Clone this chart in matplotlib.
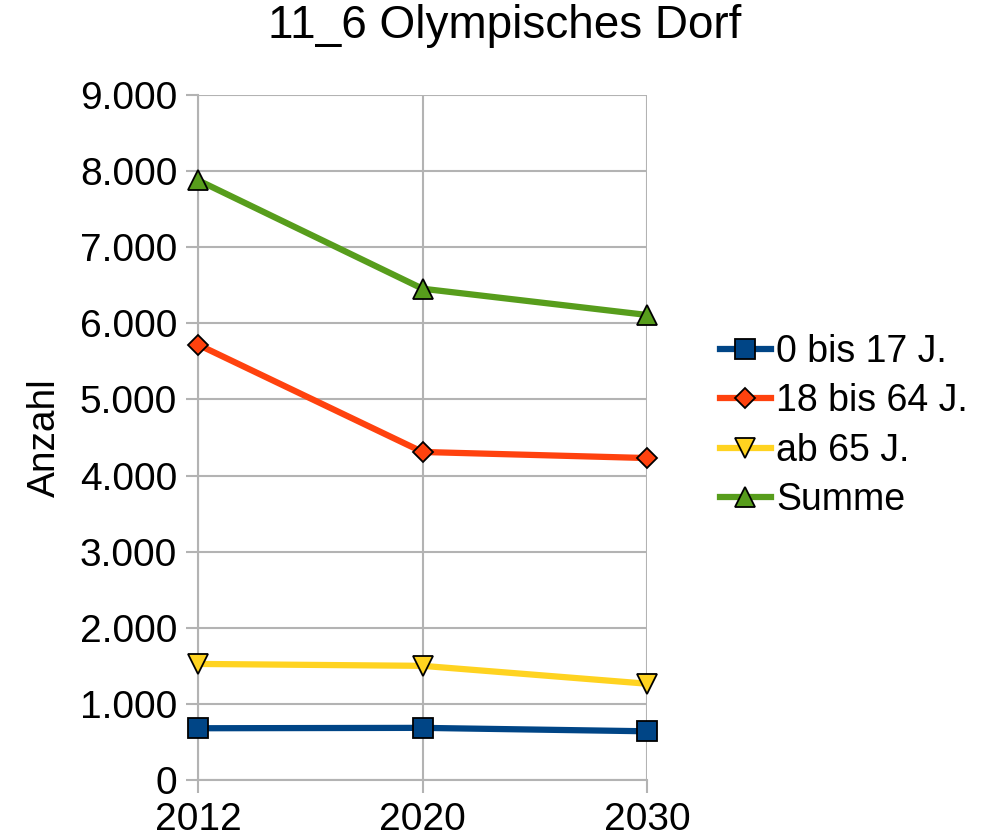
import matplotlib
matplotlib.use("Agg")
import matplotlib.pyplot as plt
from matplotlib.ticker import FuncFormatter, MultipleLocator

plt.rcParams['font.family'] = ['Liberation Sans', 'DejaVu Sans']

# data
years = ['2012', '2020', '2030']
kids = [680, 685, 640]
adults = [5720, 4310, 4230]
seniors = [1525, 1500, 1265]
total = [7880, 6455, 6110]

series = [
    ('0 bis 17 J.', kids, '#004586', 's', 15),
    ('18 bis 64 J.', adults, '#ff420e', 'D', 10),
    ('ab 65 J.', seniors, '#ffd320', 'v', 15),
    ('Summe', total, '#579d1c', '^', 15),
]

fig = plt.figure(figsize=(9.81, 8.33), dpi=100)
ax = fig.add_axes([198 / 981, 1 - 780 / 833, (647 - 198) / 981, (780 - 95) / 833])

x = range(len(years))
for label, vals, color, marker, ms in series:
    ax.plot(x, vals, color=color, linewidth=4.5, marker=marker, markersize=ms,
            markerfacecolor=color, markeredgecolor='black', markeredgewidth=1.3,
            label=label, clip_on=False, zorder=3)

ax.set_xlim(0, len(years) - 1)
ax.set_ylim(0, 9000)
ax.yaxis.set_major_locator(MultipleLocator(1000))
ax.yaxis.set_major_formatter(FuncFormatter(lambda v, p: f'{int(v):,}'.replace(',', '.')))
ax.set_xticks(list(x))
ax.set_xticklabels(years)

grid_c = '#b3b3b3'
ax.grid(True, color=grid_c, linewidth=1.5)
ax.set_axisbelow(True)
for side in ['top', 'right']:
    ax.spines[side].set_visible(False)
for side in ['left', 'bottom']:
    ax.spines[side].set_color(grid_c)
    ax.spines[side].set_linewidth(1.5)
ax.tick_params(axis='both', colors=grid_c, width=1.5, length=9, labelcolor='black',
               labelsize=28)
ax.tick_params(axis='y', pad=6)
ax.tick_params(axis='x', pad=7)

ax.set_ylabel('Anzahl', fontsize=28, labelpad=12)
fig.text(505 / 981, 0.995, '11_6 Olympisches Dorf', fontsize=33, ha='center', va='top')

fig.legend(loc='center left', bbox_to_anchor=(720 / 981, 1 - 426 / 833), frameon=False,
           fontsize=27, handlelength=1.35, handletextpad=0.15, labelspacing=0.36,
           borderaxespad=0, borderpad=0)

fig.savefig('out.png', dpi=100)
